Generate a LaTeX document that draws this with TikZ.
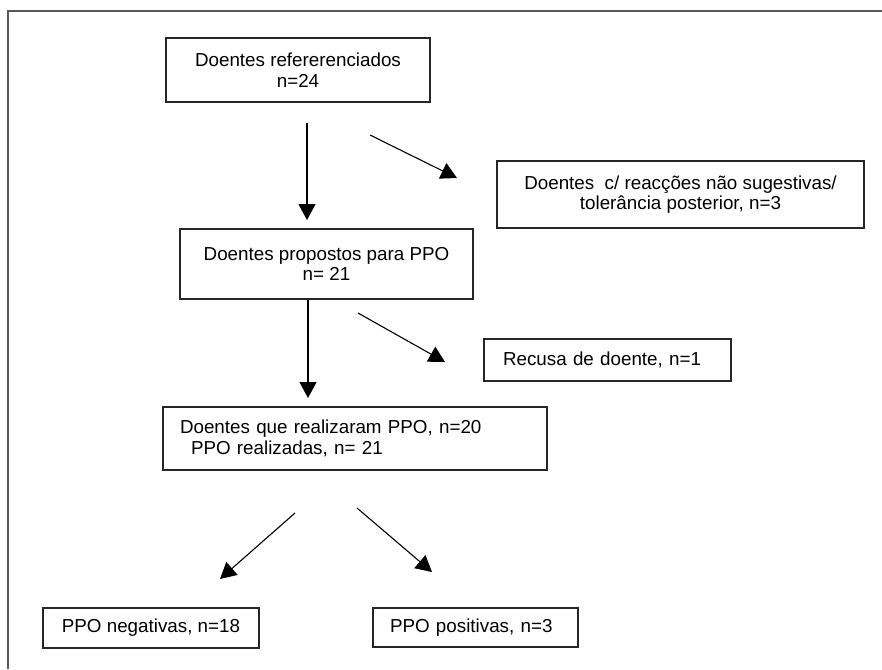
\documentclass[tikz,border=0pt]{standalone}
\usepackage{fontspec}
\setmainfont{Liberation Sans}
\usetikzlibrary{arrows.meta}

\begin{document}
\begin{tikzpicture}[x=1pt,y=-1pt,every node/.style={font=\fontsize{18.8}{20.5}\selectfont},
    box/.style={draw=black!85,line width=1.3pt,rectangle,inner sep=0pt,align=center},
    arr/.style={-{Triangle[length=16pt,width=17pt]},line width=1.1pt}]
  \useasboundingbox (0,0) rectangle (882,669);
  \draw[black!65,line width=1.8pt] (8,669)--(8,11)--(882,11);
  \node[box,minimum width=264pt,minimum height=64pt] (ref) at (298,70) {Doentes refererenciados\\n=24};
  \node[box,minimum width=367pt,minimum height=67pt] (nsug) at (680.5,194.5) {Doentes\ \ c/ reacções não sugestivas/\\tolerância posterior, n=3};
  \node[box,minimum width=293pt,minimum height=70pt] (prop) at (326.5,264) {Doentes propostos para PPO\\n= 21};
  \node[box,inner xsep=19pt,text width=209pt,minimum height=42pt,align=left] (recusa) at (607.5,360) {Recusa de doente, n=1};
  \node[box,inner xsep=17pt,text width=350pt,minimum height=63pt,align=left] (real) at (355,438.5) {Doentes que realizaram PPO, n=20\\\hspace*{11pt}PPO realizadas, n= 21};
  \node[box,minimum width=216pt,minimum height=40pt] (neg) at (151,628) {PPO negativas, n=18};
  \node[box,inner xsep=17pt,text width=171pt,minimum height=39pt,align=left] (pos) at (475.5,627.5) {PPO positivas, n=3};
  % arrow ends
  \coordinate (a1s) at (307,123); \coordinate (a1e) at (307,220);
  \coordinate (a2s) at (370,135); \coordinate (a2e) at (457,178);
  \coordinate (a3s) at (308,300); \coordinate (a3e) at (308,398);
  \coordinate (a4s) at (358,313); \coordinate (a4e) at (445,362);
  \coordinate (a5s) at (295,513); \coordinate (a5e) at (220,579);
  \coordinate (a6s) at (357,508); \coordinate (a6e) at (432,572);
  \draw[arr] (a1s)--(a1e);
  \draw[arr] (a2s)--(a2e);
  \draw[arr] (a3s)--(a3e);
  \draw[arr] (a4s)--(a4e);
  \draw[arr] (a5s)--(a5e);
  \draw[arr] (a6s)--(a6e);
\end{tikzpicture}
\end{document}
